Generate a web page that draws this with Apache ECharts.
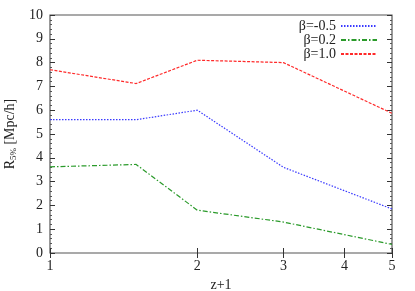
<!DOCTYPE html>
<html>
<head>
<meta charset="utf-8">
<script src="https://cdn.jsdelivr.net/npm/echarts@6/dist/echarts.min.js"></script>
<style>
  html, body { margin: 0; padding: 0; background: #fff; }
  #chart { width: 415px; height: 291px; }
</style>
</head>
<body>
<div id="chart"></div>
<script>
// z+1 values (log axis)
const zPlus1 = [1, 1.5, 2, 3, 5];
const betaM05 = [5.6, 5.6, 6.0, 3.6, 1.85];
const beta02 = [3.62, 3.72, 1.8, 1.3, 0.36];
const beta10 = [7.7, 7.12, 8.1, 8.0, 5.87];
const xTicks = [1, 2, 3, 4, 5];

const font = "Liberation Serif";
const pairs = (ys) => zPlus1.map((x, i) => [x, ys[i]]);

const chart = echarts.init(document.getElementById("chart"));

const xBase = {
  type: "log",
  logBase: 10,
  min: 1,
  max: 5,
  axisLine: { show: false },
  splitLine: { show: false },
  minorTick: { show: false },
};

const yBase = {
  type: "value",
  min: 0,
  max: 10,
  interval: 1,
  axisLine: { show: false },
  splitLine: { show: false },
  axisTick: { inside: true, length: 5, lineStyle: { color: "#333" } },
  minorTick: { show: true, splitNumber: 5, length: 2, lineStyle: { color: "#555" } },
};

chart.setOption({
  animation: false,
  grid: {
    left: 50,
    right: 23,
    top: 15,
    bottom: 38,
    containLabel: false,
    outerBoundsMode: "none",
    show: true,
    borderColor: "#555",
    borderWidth: 1.2,
    backgroundColor: "transparent",
  },
  legend: {
    orient: "vertical",
    right: 32,
    top: 14,
    align: "right",
    itemWidth: 36,
    itemHeight: 8,
    itemGap: 0,
    itemStyle: { opacity: 0 },
    textStyle: { fontFamily: font, fontSize: 14, lineHeight: 12.5, color: "#222" },
    data: ["β=-0.5", "β=0.2", "β=1.0"],
  },
  xAxis: [
    Object.assign({}, xBase, {
      position: "bottom",
      name: "z+1",
      nameLocation: "middle",
      nameGap: 25,
      nameTextStyle: { fontFamily: font, fontSize: 14, color: "#222" },
      axisTick: { inside: true, length: 5, customValues: xTicks, lineStyle: { color: "#333" } },
      axisLabel: {
        customValues: xTicks,
        fontFamily: font,
        fontSize: 14,
        color: "#222",
        margin: 6,
      },
    }),
    Object.assign({}, xBase, {
      position: "top",
      axisTick: { inside: true, length: 5, customValues: xTicks, lineStyle: { color: "#333" } },
      axisLabel: { show: false },
    }),
  ],
  yAxis: [
    Object.assign({}, yBase, {
      position: "left",
      name: "{n|R}{s|5%} {n|[Mpc/h]}",
      nameLocation: "middle",
      nameGap: 28,
      nameRotate: 90,
      nameTextStyle: {
        rich: {
          n: { fontFamily: font, fontSize: 14, color: "#222" },
          s: { fontFamily: font, fontSize: 9, color: "#222", verticalAlign: "bottom", padding: [6, 0, 0, 0] },
        },
      },
      axisLabel: { fontFamily: font, fontSize: 14, color: "#222", margin: 7 },
    }),
    Object.assign({}, yBase, {
      position: "right",
      axisLabel: { show: false },
    }),
  ],
  series: [
    {
      name: "β=-0.5",
      type: "line",
      data: pairs(betaM05),
      symbol: "none",
      color: "#3a3aff",
      lineStyle: { width: 1.2, type: [1.5, 1.5], color: "#3a3aff" },
    },
    {
      name: "β=0.2",
      type: "line",
      data: pairs(beta02),
      symbol: "none",
      color: "#2a9a2a",
      lineStyle: { width: 1.2, type: [5, 2, 1.5, 2], color: "#2a9a2a" },
    },
    {
      name: "β=1.0",
      type: "line",
      data: pairs(beta10),
      symbol: "none",
      color: "#ff2a2a",
      lineStyle: { width: 1.2, type: [3, 1.5], color: "#ff2a2a" },
    },
  ],
});
</script>
</body>
</html>
